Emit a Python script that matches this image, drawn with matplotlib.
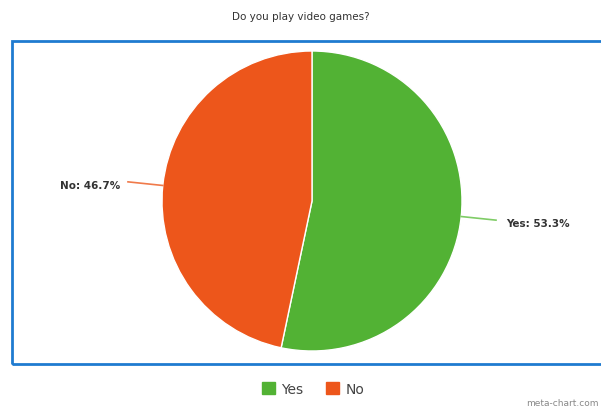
import matplotlib.pyplot as plt
import matplotlib.patches as mpatches
import numpy as np

labels = ['Yes', 'No']
values = [53.3, 46.7]
colors = ['#52b234', '#ed561b']
line_colors = ['#7fcc66', '#f07a4a']
title = 'Do you play video games?'

W, H = 601, 410
fig = plt.figure(figsize=(W / 100, H / 100), dpi=100)
ax = fig.add_axes([0, 0, 1, 1])

cx, cy, r = 312, H - 202, 150
wedges, _ = ax.pie(values, colors=colors, startangle=90, counterclock=False,
                   center=(cx, cy), radius=r,
                   wedgeprops=dict(edgecolor='white', linewidth=1))
ax.set_xlim(0, W)
ax.set_ylim(0, H)
ax.set_aspect('equal')
ax.axis('off')

# leader lines and labels
for w, lab, val, lc in zip(wedges, labels, values, line_colors):
    ang = np.deg2rad((w.theta1 + w.theta2) / 2)
    x0, y0 = cx + r * np.cos(ang), cy + r * np.sin(ang)
    x1, y1 = cx + (r + 35) * np.cos(ang), cy + (r + 35) * np.sin(ang)
    ax.plot([x0, x1], [y0, y1], color=lc, lw=1.2)
    right = np.cos(ang) > 0
    ax.text(x1 + (10 if right else -8), y1 - 3, f'{lab}: {val}%',
            ha='left' if right else 'right', va='center',
            fontsize=7.5, fontweight='bold', color='#333333')

# outer border box
ax.add_patch(mpatches.Rectangle((12, H - 365), 600, 323, fill=False,
                                edgecolor='#1f7bd0', lw=2.0, clip_on=False))

fig.text(0.5, 1 - 17 / H, title, ha='center', va='center',
         fontsize=7.5, color='#333333')

handles = [mpatches.Patch(facecolor=c, edgecolor=c) for c in colors]
fig.legend(handles, labels, loc='center', bbox_to_anchor=(313 / W, 1 - 390 / H),
           ncol=2, frameon=False, fontsize=10, handlelength=0.95, handleheight=0.95,
           handletextpad=0.45, columnspacing=1.6, labelcolor='#444444')

fig.text(599 / W, 1 - 404 / H, 'meta-chart.com', fontsize=6.5, color='#888888',
         ha='right', va='center')

fig.savefig('out.png', dpi=100)
